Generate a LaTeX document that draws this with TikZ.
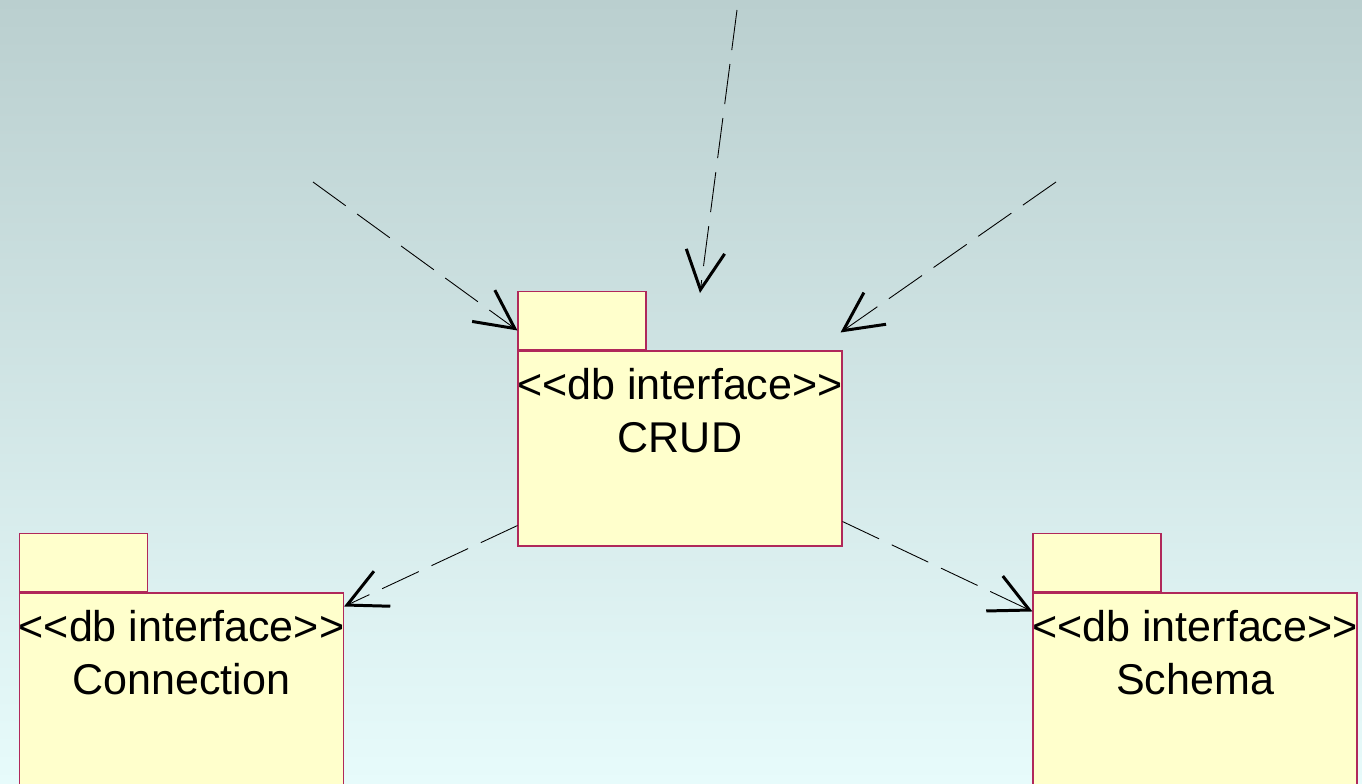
\documentclass[tikz,border=0pt]{standalone}
\usepackage{fontspec}
\setmainfont{Liberation Sans}
\usetikzlibrary{arrows.meta,positioning}

\definecolor{pkgfill}{RGB}{255,255,204}
\definecolor{pkgline}{RGB}{176,40,90}
\definecolor{bgtop}{RGB}{186,207,207}
\definecolor{bgbot}{RGB}{231,251,251}

\tikzset{
  pkgbody/.style={draw=pkgline, fill=pkgfill, line width=0.6pt, minimum width=6.48cm, minimum height=3.9cm, inner sep=0pt},
  pkgtab/.style={draw=pkgline, fill=pkgfill, line width=0.6pt, minimum width=2.56cm, minimum height=1.16cm, inner sep=0pt},
  pkgtext/.style={font=\fontsize{24.5}{30.6}\selectfont, align=center, inner sep=0pt},
  dep/.style={dash pattern=on 23pt off 8pt, line width=0.5pt, -{Straight Barb[length=22pt,width=22pt,line width=1.7pt]}}
}

\begin{document}
\begin{tikzpicture}
\shade[top color=bgtop, bottom color=bgbot] (0,0) rectangle (27.24,15.66);
\useasboundingbox (0,0) rectangle (27.24,15.66);
\clip (0,0) rectangle (27.24,15.66);

\node [pkgbody] (crud) at (13.6,6.69) {};
\node [pkgtab, above right=0pt and 0pt of crud.north west] (crudtab) {};
\node [pkgtext, below=0.34cm of crud.north] (crudtxt) {<{}<db interface>{}>\\CRUD};

\node [pkgbody] (conn) at (3.63,1.85) {};
\node [pkgtab, above right=0pt and 0pt of conn.north west] (conntab) {};
\node [pkgtext, below=0.34cm of conn.north] (conntxt) {<{}<db interface>{}>\\Connection};

\node [pkgbody] (schema) at (23.9,1.85) {};
\node [pkgtab, above right=0pt and 0pt of schema.north west] (schematab) {};
\node [pkgtext, below=0.34cm of schema.north] (schematxt) {<{}<db interface>{}>\\Schema};

\coordinate (user1) at (6.26,12.02);
\coordinate (user2) at (14.74,15.46);
\coordinate (user3) at (21.12,12.02);
\coordinate (crudtop) at (14.0,9.8);

\draw[dep] (user1) -- ([yshift=0.4cm]crudtab.south west);
\draw[dep] (user2) -- (crudtop);
\draw[dep] (user3) -- ([yshift=0.36cm,xshift=-0.04cm]crud.north east);
\draw[dep] ([yshift=0.42cm]crud.south west) -- ([yshift=-0.28cm]conn.north east);
\draw[dep] ([yshift=0.5cm]crud.south east) -- ([yshift=-0.38cm]schema.north west);
\end{tikzpicture}
\end{document}
